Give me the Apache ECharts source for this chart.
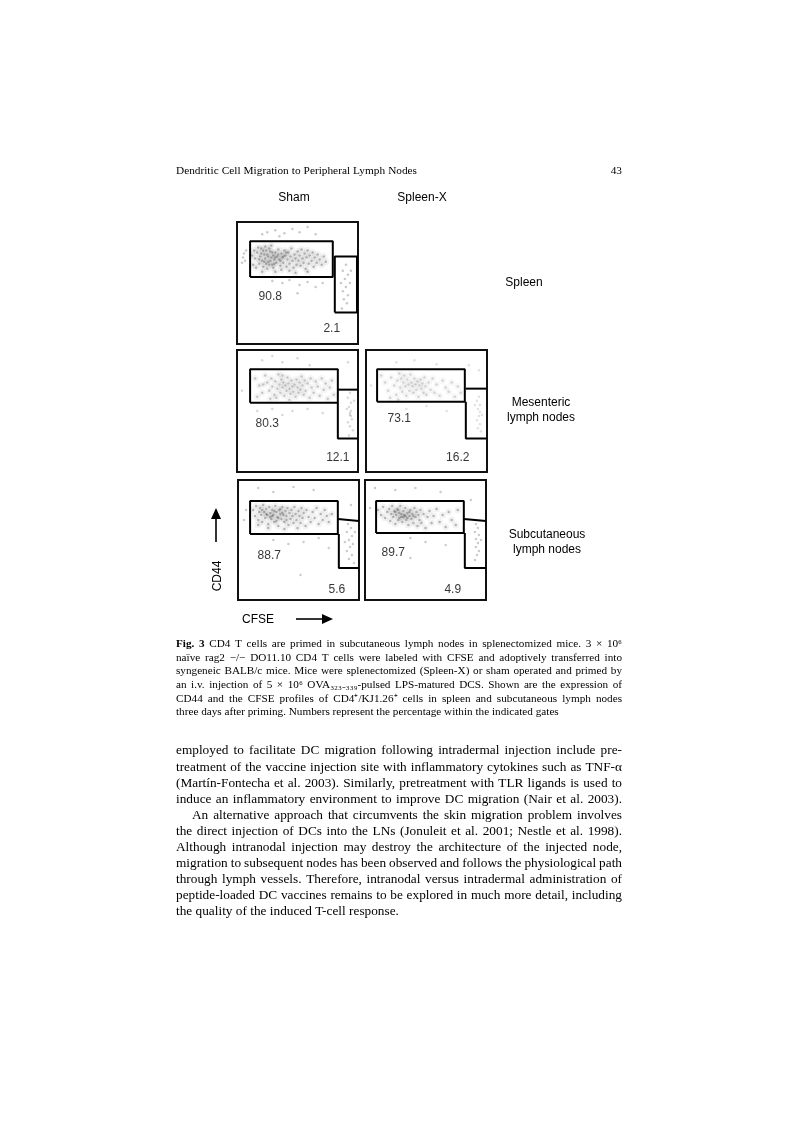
<!DOCTYPE html>
<html>
<head>
<meta charset="utf-8">
<title>Fig. 3</title>
<style>
html, body { margin: 0; padding: 0; background: #fff; }
/* the source is a soft page scan */
#chart { width: 800px; height: 1133px; filter: blur(0.5px); }
</style>
<script src="https://cdn.jsdelivr.net/npm/echarts@6/dist/echarts.min.js"></script>
</head>
<body>
<div id="chart"></div>
<script>
// events per panel: [CFSE, CD44] in panel units (0-120)
var spleenSham = [[20,90],[23,86],[26,92],[28,84],[30,88],[31,81],[33,91],[34,85],[35,78],[36,87],[37,83],[38,90],[29,79],[27,88],[25,82],[22,79],[24,94],[32,94],[39,80],[40,86],[41,93],[42,83],[43,77],[44,89],[45,85],[46,80],[47,92],[48,87],[49,76],[50,83],[51,90],[52,79],[53,86],[54,94],[55,82],[56,75],[57,88],[58,84],[59,78],[60,91],
    [18,84],[17,92],[16,78],[19,75],[21,95],[15,87],[26,76],[30,74],[34,97],[28,96],[36,75],[33,82],[35,90],[31,86],[29,92],[37,79],[32,78],[27,81],[24,89],[22,83],[38,85],[41,88],[43,82],[46,86],[49,90],[61,82],[62,87],[63,77],[64,93],[65,84],[66,80],[67,89],[68,74],[69,85],[70,92],[71,79],[72,87],[74,82],[75,90],[76,76],[77,85],[79,80],[80,88],[82,83],[84,78],[86,86],[88,81],[52,72],[44,73],[38,71],[58,70],[70,71],[25,71],
    [30,110],[38,112],[47,109],[55,113],[62,110],[70,115],[78,108],[42,106],[25,108],[6,85],[7,89],[8,82],[9,92],[5,80],[35,62],[45,60],[52,63],[62,58],[70,61],[78,56],[60,50],[85,60],
    [108,78],[105,72],[110,68],[107,64],[112,60],[108,56],[105,52],[110,48],[106,44],[103,60],[113,72],[109,40],[104,35]];
var mesSham = [[18,92],[22,85],[25,78],[28,95],[30,88],[32,80],[34,92],[35,84],[37,76],[38,89],[40,82],[41,96],[42,86],[43,78],[44,91],[45,83],[46,88],[47,75],[48,85],[49,80],[50,93],[51,87],[52,82],[53,77],[54,90],[55,84],[56,79],[57,86],[58,74],[59,91],[60,83],[61,78],[62,88],[63,81],[64,94],[65,85],[66,76],[67,90],[68,80],[70,87],[72,73],[73,92],[74,83],[76,78],[78,89],[80,84],[82,75],[84,92],[86,81],[88,87],[90,72],[92,83],[94,90],[96,76],[20,74],[26,86],[33,72],[39,73],[45,95],[52,71],
    [25,110],[35,114],[45,108],[60,112],[72,105],[110,108],[35,62],[45,56],[55,60],[70,62],[85,58],[20,60],[5,80],
    [112,78],[110,73],[113,68],[111,64],[113,60],[112,56],[114,52],[110,49],[112,45],[115,41],[109,62],[116,70],[112,58],[113,55],[111,36]];
var mesSplenX = [[15,95],[19,88],[22,80],[25,93],[28,85],[30,76],[31,90],[33,97],[34,83],[35,92],[36,79],[37,88],[38,95],[39,84],[40,75],[41,91],[42,86],[43,80],[44,96],[45,88],[46,84],[47,78],[48,92],[49,86],[50,81],[51,89],[52,74],[53,85],[54,91],[55,82],[56,87],[57,78],[58,93],[59,84],[60,76],[62,88],[64,81],[66,92],[68,78],[70,86],[73,75],[76,90],[79,83],[82,79],[85,88],[88,74],[91,84],[94,78],[24,73],[32,71],
    [30,108],[48,110],[70,106],[102,105],[40,62],[60,65],[80,60],[5,85],[112,100],
    [112,74],[110,70],[113,66],[111,62],[113,59],[112,55],[110,51],[113,47],[111,43],[114,40],[108,66],[115,56]];
var subSham = [[15,90],[17,84],[18,94],[20,80],[21,88],[22,92],[23,85],[24,78],[25,95],[26,88],[27,82],[28,91],[29,85],[30,76],[31,93],[32,87],[33,81],[34,90],[35,85],[36,78],[37,94],[38,88],[39,83],[40,74],[41,90],[42,86],[43,81],[44,93],[45,85],[46,78],[47,89],[48,84],[49,92],[50,75],[51,87],[52,81],[53,90],[54,84],[55,77],[56,93],[57,86],[58,80],[59,72],[60,89],[61,84],[62,77],[63,92],[64,82],[65,87],[67,74],[68,90],[70,83],[72,78],[74,88],[76,82],[78,92],[80,76],[82,86],[84,80],[86,90],[88,84],[90,78],[93,86],[32,83],[36,89],[40,82],[44,87],[38,79],[34,84],[42,91],[28,86],[48,80],[24,90],[20,75],[30,72],[46,71],
    [20,112],[35,108],[55,113],[75,110],[8,90],[6,80],[112,95],[35,60],[50,56],[65,58],[80,62],[90,52],[62,25],[105,12],
    [109,76],[112,72],[108,68],[113,64],[110,60],[114,56],[111,53],[108,49],[113,45],[110,41],[115,37],[116,68],[106,58]];
var subSplenX = [[13,90],[16,85],[18,93],[20,82],[22,88],[24,91],[25,79],[26,86],[27,94],[28,83],[29,89],[30,76],[31,85],[32,91],[33,80],[34,87],[35,94],[36,83],[37,78],[38,89],[39,85],[40,92],[41,80],[42,87],[43,75],[44,84],[45,90],[46,81],[47,86],[48,77],[49,92],[50,83],[51,88],[52,74],[53,85],[54,80],[55,90],[56,77],[58,86],[60,72],[62,83],[64,89],[66,77],[68,84],[71,91],[74,78],[77,85],[80,73],[83,88],[86,80],[90,75],[92,90],[36,86],[40,84],[34,82],[38,83],[30,88],[44,88],[42,82],[33,90],[48,84],
    [10,112],[30,110],[50,112],[75,108],[105,100],[5,92],[45,62],[60,58],[80,55],[45,42],
    [110,76],[112,72],[109,68],[113,65],[110,61],[112,57],[110,53],[113,49],[111,45],[109,40],[115,60]];

// gates, same units
var gatesSpleenSham = [[[13,66],[95,66],[95,101],[13,101],[13,66]], [[97,31],[119,31],[119,86],[97,86],[97,31]]];
var gatesMesSham = [[[13,68],[100,68],[100,101],[13,101],[13,68]], [[100,81],[120,81]], [[100,68],[100,33],[120,33]]];
var gatesMesSplenX = [[[11,69],[98,69],[98,101],[11,101],[11,69]], [[99,82],[120,82]], [[99,69],[99,33],[120,33]]];
var gatesSubSham = [[[12,66],[99,66],[99,99],[12,99],[12,66]], [[99,81],[120,79]], [[100,66],[100,32],[120,32]]];
var gatesSubSplenX = [[[11,67],[98,67],[98,99],[11,99],[11,67]], [[98,81],[120,79]], [[99,67],[99,32],[120,32]]];

// percentages in the gates: [x, y, text]
var pctSpleenSham = [[33,47,'90.8'],[94,15,'2.1']];
var pctMesSham = [[30,48,'80.3'],[100,14,'12.1']];
var pctMesSplenX = [[33,52,'73.1'],[91,14,'16.2']];
var pctSubSham = [[31,44,'88.7'],[98,10,'5.6']];
var pctSubSplenX = [[28,47,'89.7'],[87,10,'4.9']];

var headerLeft = 'Dendritic Cell Migration to Peripheral Lymph Nodes';
var pageNumber = '43';
var captionLines = [
    'Fig. 3 CD4 T cells are primed in subcutaneous lymph nodes in splenectomized mice. 3 × 10⁶',
    'naïve rag2 −/− DO11.10 CD4 T cells were labeled with CFSE and adoptively transferred into',
    'syngeneic BALB/c mice. Mice were splenectomized (Spleen-X) or sham operated and primed by',
    'an i.v. injection of 5 × 10⁶ OVA₃₂₃₋₃₃₉-pulsed LPS-matured DCS. Shown are the expression of',
    'CD44 and the CFSE profiles of CD4⁺/KJ1.26⁺ cells in spleen and subcutaneous lymph nodes',
    'three days after priming. Numbers represent the percentage within the indicated gates'
];
var bodyLines = [
    'employed to facilitate DC migration following intradermal injection include pre-',
    'treatment of the vaccine injection site with inflammatory cytokines such as TNF-α',
    '(Martín-Fontecha et al. 2003). Similarly, pretreatment with TLR ligands is used to',
    'induce an inflammatory environment to improve DC migration (Nair et al. 2003).',
    'An alternative approach that circumvents the skin migration problem involves',
    'the direct injection of DCs into the LNs (Jonuleit et al. 2001; Nestle et al. 1998).',
    'Although intranodal injection may destroy the architecture of the injected node,',
    'migration to subsequent nodes has been observed and follows the physiological path',
    'through lymph vessels. Therefore, intranodal versus intradermal administration of',
    'peptide-loaded DC vaccines remains to be explored in much more detail, including',
    'the quality of the induced T-cell response.'
];

var panels = [
    { box: [237, 222, 121, 122], dots: spleenSham, gates: gatesSpleenSham, pct: pctSpleenSham, op: 0.36 },
    { box: [237, 350, 121, 122], dots: mesSham, gates: gatesMesSham, pct: pctMesSham, op: 0.26 },
    { box: [366, 350, 121, 122], dots: mesSplenX, gates: gatesMesSplenX, pct: pctMesSplenX, op: 0.2 },
    { box: [238, 480, 121, 120], dots: subSham, gates: gatesSubSham, pct: pctSubSham, op: 0.34 },
    { box: [365, 480, 121, 120], dots: subSplenX, gates: gatesSubSplenX, pct: pctSubSplenX, op: 0.34 }
];

function inMainGate(d, gate) {
    return d[0] > gate[0][0] && d[0] < gate[1][0] && d[1] > gate[0][1] && d[1] < gate[2][1];
}

var grids = [], xAxes = [], yAxes = [], series = [];
panels.forEach(function (p, i) {
    grids.push({
        left: p.box[0], top: p.box[1], width: p.box[2], height: p.box[3],
        show: true, borderColor: '#111', borderWidth: 2, backgroundColor: '#fff'
    });
    xAxes.push({ type: 'value', gridIndex: i, min: 0, max: 120, show: false });
    yAxes.push({ type: 'value', gridIndex: i, min: 0, max: 120, show: false });
    var inside = p.dots.filter(function (d) { return inMainGate(d, p.gates[0]); });
    var outside = p.dots.filter(function (d) { return !inMainGate(d, p.gates[0]); });
    // soft haze under the events, then the events themselves
    series.push({
        type: 'scatter', xAxisIndex: i, yAxisIndex: i, data: inside, symbolSize: 7, silent: true,
        itemStyle: { color: '#444', opacity: p.op * 0.2 }
    });
    series.push({
        type: 'scatter', xAxisIndex: i, yAxisIndex: i, data: inside, symbolSize: 2.5, silent: true,
        itemStyle: { color: '#3c3c3c', opacity: p.op }
    });
    series.push({
        type: 'scatter', xAxisIndex: i, yAxisIndex: i, data: outside, symbolSize: 2.5, silent: true,
        itemStyle: { color: '#444', opacity: p.op * 0.8 }
    });
    p.gates.forEach(function (g) {
        series.push({
            type: 'line', xAxisIndex: i, yAxisIndex: i, data: g, symbol: 'none', silent: true,
            lineStyle: { color: '#000', width: 2 }, z: 3
        });
    });
    series.push({
        type: 'scatter', xAxisIndex: i, yAxisIndex: i, data: p.pct, symbolSize: 1, silent: true,
        itemStyle: { color: 'transparent' }, z: 4,
        label: {
            show: true, position: 'inside', color: '#000', fontSize: 12, fontFamily: 'Liberation Sans',
            formatter: function (v) { return v.value[2]; }
        }
    });
});

// page text, spread word by word to the column edges like the print
var measure = document.createElement('canvas').getContext('2d');
function setLine(text, y, size, left, right, justify, boldWords) {
    var words = text.split(' '), total = 0, fonts = [], out = [];
    words.forEach(function (w, i) {
        var f = (i < boldWords ? 'bold ' : '') + size + 'px "Liberation Serif"';
        measure.font = f;
        fonts.push(f);
        total += measure.measureText(w).width;
    });
    measure.font = size + 'px "Liberation Serif"';
    var gap = justify ? (right - left - total) / (words.length - 1) : measure.measureText(' ').width;
    var x = left;
    words.forEach(function (w, i) {
        out.push({ type: 'text', x: x, y: y, style: { text: w, font: fonts[i], fill: '#000', textVerticalAlign: 'middle' } });
        measure.font = fonts[i];
        x += measure.measureText(w).width + gap;
    });
    return out;
}
function sans(text, x, y, rot) {
    return { type: 'text', x: x, y: y, rotation: rot || 0, style: { text: text, font: '12px "Liberation Sans"', fill: '#000', textAlign: 'center', textVerticalAlign: 'middle' } };
}

var graphics = [];
graphics = graphics.concat(setLine(headerLeft, 171, 11.3, 176, 417, true, 0));
graphics.push({ type: 'text', x: 622, y: 171, style: { text: pageNumber, font: '11.3px "Liberation Serif"', fill: '#000', textAlign: 'right', textVerticalAlign: 'middle' } });
captionLines.forEach(function (t, i) {
    graphics = graphics.concat(setLine(t, 644 + i * 13.7, 11.2, 176, 622, i < captionLines.length - 1, i === 0 ? 2 : 0));
});
bodyLines.forEach(function (t, i) {
    var left = i === 4 ? 192 : 176;
    graphics = graphics.concat(setLine(t, 751 + i * 16.1, 13.3, left, 622, i < bodyLines.length - 1, 0));
});
graphics.push(
    sans('Sham', 294, 198), sans('Spleen-X', 422, 198), sans('Spleen', 524, 283),
    sans('Mesenteric', 541, 403), sans('lymph nodes', 541, 418),
    sans('Subcutaneous', 547, 535), sans('lymph nodes', 547, 550),
    sans('CD44', 218, 576, Math.PI / 2), sans('CFSE', 258, 620),
    { type: 'line', shape: { x1: 216, y1: 542, x2: 216, y2: 516 }, style: { stroke: '#000', lineWidth: 1.6 } },
    { type: 'polygon', shape: { points: [[216, 508], [211, 519], [221, 519]] }, style: { fill: '#000' } },
    { type: 'line', shape: { x1: 296, y1: 619, x2: 324, y2: 619 }, style: { stroke: '#000', lineWidth: 1.6 } },
    { type: 'polygon', shape: { points: [[333, 619], [322, 614], [322, 624]] }, style: { fill: '#000' } }
);

var chart = echarts.init(document.getElementById('chart'));
chart.setOption({
    animation: false,
    backgroundColor: '#fff',
    grid: grids,
    xAxis: xAxes,
    yAxis: yAxes,
    series: series,
    graphic: graphics
});
</script>
</body>
</html>
